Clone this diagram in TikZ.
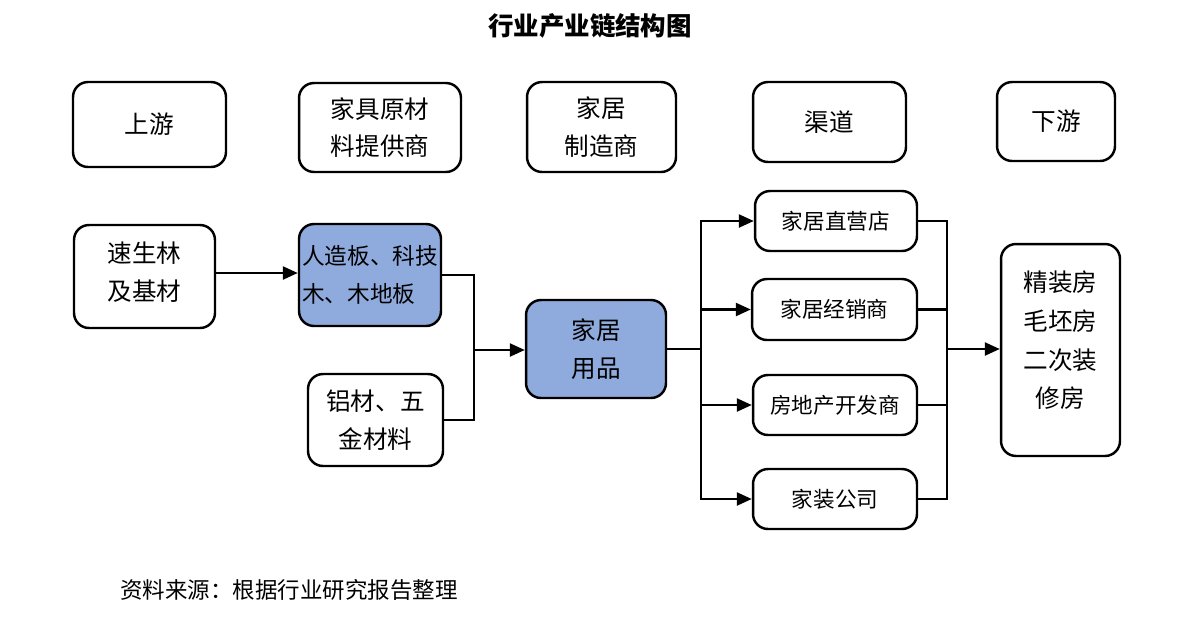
\documentclass[tikz,border=0pt]{standalone}
\usepackage{fontspec}
\setmainfont{Noto Sans CJK SC}
\usetikzlibrary{arrows.meta}
\definecolor{boxblue}{RGB}{143,170,220}
\begin{document}
\begin{tikzpicture}[x=0.02cm,y=-0.02cm,
  box/.style={draw=black,line width=1.4pt,rounded corners=0.3cm,fill=white,align=center,inner sep=1pt,
    font=\fontsize{14}{21.5}\selectfont},
  bluebox/.style={box,fill=boxblue},
  chbox/.style={box,font=\fontsize{12.3}{18}\selectfont},
  conn/.style={line width=1.35pt},
  arr/.style={conn,-{Triangle[length=0.3cm,width=0.26cm]}}]
\useasboundingbox (0,0) rectangle (1202,619);
\node[font=\fontsize{14.5}{18}\selectfont\bfseries] (title) at (590,26) {行业产业链结构图};
% top row
\node[box,minimum width=3.06cm,minimum height=1.70cm] (up) at (149.5,124.5) {上游};
\node[box,minimum width=3.24cm,minimum height=1.78cm] (raw) at (380,127.5) {家具原材\\料提供商};
\node[box,minimum width=2.98cm,minimum height=1.80cm] (mfr) at (601.5,127) {家居\\制造商};
\node[box,minimum width=3.06cm,minimum height=1.60cm] (chan) at (829.5,122) {渠道};
\node[box,minimum width=2.36cm,minimum height=1.58cm] (down) at (1056,121.5) {下游};
% second part
\node[box,minimum width=2.82cm,minimum height=2.06cm] (sl) at (144.5,276.5) {速生林\\及基材\rule[-6pt]{0pt}{1pt}};
\node[bluebox,minimum width=2.84cm,minimum height=2.04cm,align=left,font=\fontsize{12.9}{21.5}\selectfont] (rzb) at (370,275) {人造板、科技\\木、木地板};
\node[box,minimum width=2.70cm,minimum height=1.84cm] (lc) at (375.5,420) {铝材、五\\金材料};
\node[bluebox,minimum width=2.80cm,minimum height=1.96cm] (jj) at (596,349) {家居\\用品};
\node[chbox,minimum width=3.24cm,minimum height=1.20cm] (c1) at (836,221) {家居直营店};
\node[chbox,minimum width=3.30cm,minimum height=1.22cm] (c2) at (834.5,309.5) {家居经销商};
\node[chbox,minimum width=3.28cm,minimum height=1.20cm] (c3) at (835,405) {房地产开发商};
\node[chbox,minimum width=3.28cm,minimum height=1.20cm] (c4) at (835,499) {家装公司};
\node[box,minimum width=2.38cm,minimum height=4.24cm,font=\fontsize{14}{22}\selectfont] (ds) at (1060.5,350) {精装房\\毛坯房\\二次装\\修房\rule[-12pt]{0pt}{1pt}};
% footer
\node[anchor=west,font=\fontsize{12.8}{16}\selectfont] (src) at (114,590) {资料来源：根据行业研究报告整理};
% connectors
\coordinate (m1) at (474,350);
\coordinate (s1) at (701,349);
\coordinate (m2) at (947,349);
\draw[arr] (sl.east |- 0,273) -- (rzb.west |- 0,273);
\draw[conn] (rzb.east) -| (m1) |- (lc.east);
\draw[arr] (m1) -- (m1 -| jj.west);
\draw[conn] (jj.east) -- (s1);
\draw[arr] (s1) |- (c1.west);
\draw[arr] (s1) |- (c2.west);
\draw[arr] (s1) |- (c3.west);
\draw[arr] (s1) |- (c4.west);
\draw[conn] (c1.east) -| (m2);
\draw[conn] (c2.east) -| (m2);
\draw[conn] (c3.east) -| (m2);
\draw[conn] (c4.east) -| (m2);
\draw[arr] (m2) -- (m2 -| ds.west);
\end{tikzpicture}
\end{document}
